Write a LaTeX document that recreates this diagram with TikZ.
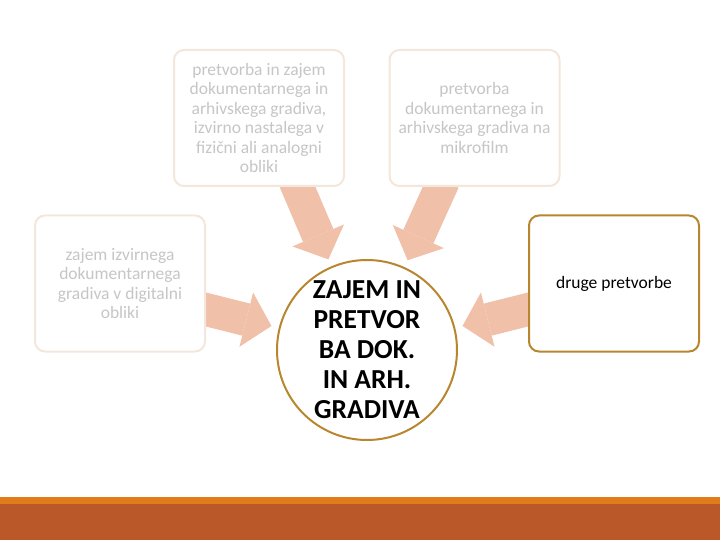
\documentclass[tikz,border=0pt]{standalone}
\usepackage{fontspec}
\setmainfont{Carlito}
\usepackage{tikz}
\usetikzlibrary{positioning}
\usetikzlibrary{backgrounds}
\usetikzlibrary{arrows.meta}
\definecolor{paleline}{HTML}{F3E7DB}
\definecolor{paletext}{HTML}{C6C6C6}
\definecolor{goldline}{HTML}{B8862E}
\definecolor{flowfill}{HTML}{F0C0A8}
\definecolor{stripe}{HTML}{E07D1A}
\definecolor{footer}{HTML}{BB582A}

\begin{document}
\begin{tikzpicture}
      [x=1pt, y=-1pt,
       every node/.style={align=center},
       fadebox/.style={draw=paleline, line width=2pt, rounded corners=10pt,
         fill=white, minimum width=170pt, minimum height=136pt, inner sep=2pt,
         text=paletext, font=\fontsize{17.5}{19.5}\selectfont},
       goldbox/.style={fadebox, draw=goldline, text=black},
       core/.style={circle, draw=goldline, line width=2pt, minimum size=180pt,
         inner sep=0pt, fill=white, font=\bfseries\fontsize{27.5}{30}\selectfont},
       flow/.style={draw=flowfill, line width=33pt, shorten >=7.5pt,
         -{Triangle[width=56pt, length=26pt, line width=0pt]}}]
      \useasboundingbox (0, 0) rectangle (720, 540);

      \node (topleft) [fadebox] at (259, 118) {pretvorba in zajem\\dokumentarnega in\\arhivskega gradiva,\\izvirno nastalega v\\fizični ali analogni\\obliki};
      \node (topright) [fadebox] at (474.5, 118) {pretvorba\\dokumentarnega in\\arhivskega gradiva na\\mikrofilm};
      \node (leftbox) [fadebox] at (120, 283.5) {zajem izvirnega\\dokumentarnega\\gradiva v digitalni\\obliki};
      \node (rightbox) [goldbox] at (614, 283.5) {druge pretvorbe};
      \node (core) [core] at (367, 350) {ZAJEM IN\\PRETVOR\\BA DOK.\\IN ARH.\\GRADIVA};

      \begin{scope}[on background layer]
        \draw [flow] ([xshift=36pt, yshift=6pt]topleft.south) -- (core);
        \draw [flow] ([xshift=-31pt, yshift=6pt]topright.south) -- (core);
        \draw [flow] ([xshift=-6pt, yshift=-24.5pt]leftbox.east) -- (core);
        \draw [flow] ([xshift=6pt, yshift=-24.5pt]rightbox.west) -- (core);
      \end{scope}

      \fill [stripe] (0, 497) rectangle (720, 504);
      \fill [footer] (0, 504) rectangle (720, 540);

    \end{tikzpicture}
\end{document}
